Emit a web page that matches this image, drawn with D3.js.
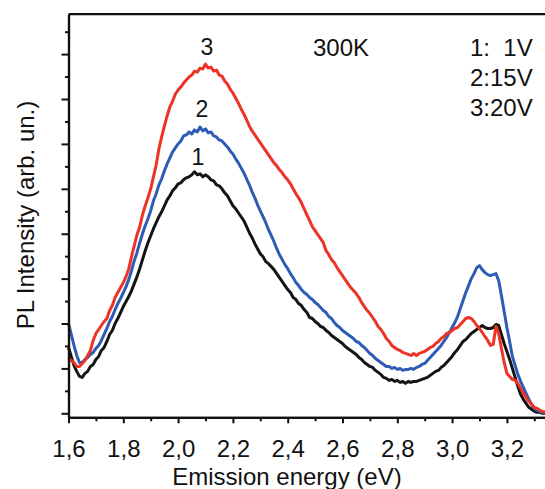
<!DOCTYPE html>
<html>
<head>
<meta charset="utf-8">
<script src="https://cdn.jsdelivr.net/npm/d3@7"></script>
<style>
  body { margin: 0; background: #fff; }
  svg { display: block; font-family: "Liberation Sans", Arial, sans-serif; }
  text { white-space: pre; }
</style>
</head>
<body>
<div id="chart"></div>
<script>
// emission energy grid (eV), spectra sampled every 0.01 eV from 1.60 to 3.34
const energy = d3.range(160, 335).map(d => d / 100);

// curve 1 : 1 V
const series1V = [66,57,48,42,37,36,40,42,47,49,54,57,63,66,72,79,83,90,95,101,
  107,112,117,123,130,137,145,154,163,171,178,185,191,197,202,208,214,218,223,226,
  230,231,234,236,237,239,242,239,240,237,239,237,234,233,229,228,225,221,218,213,
  208,205,201,197,193,187,181,176,170,165,160,157,152,150,147,144,140,136,132,128,
  124,121,116,114,110,108,104,101,96,95,92,90,87,86,83,81,78,76,74,72,
  70,67,65,63,61,59,56,54,51,49,47,46,43,41,39,36,35,33,34,32,
  33,31,32,30,32,31,32,32,33,34,35,36,38,40,42,43,46,48,51,54,
  57,61,64,68,72,74,77,80,82,84,86,88,86,85,85,86,89,88,79,70,
  62,54,45,36,27,19,14,10,6,4,2,1,1,0,0];

// curve 2 : 15 V
const series15V = [90,79,68,58,51,51,54,56,59,61,65,68,73,79,85,92,97,104,110,115,
  121,127,134,143,153,161,171,180,188,195,203,213,220,229,235,243,250,256,262,266,
  270,273,278,279,282,280,284,282,287,283,285,281,282,278,277,274,273,270,267,263,
  260,255,251,246,241,235,229,222,216,209,203,197,191,184,178,172,165,159,154,149,
  145,140,136,131,128,124,121,119,116,114,111,109,106,103,101,97,95,91,88,86,
  83,81,79,77,75,72,71,68,66,63,60,58,55,53,51,49,47,47,45,46,
  44,45,43,44,44,45,44,46,47,49,50,53,56,59,62,65,68,72,76,81,
  86,91,97,105,113,121,128,135,140,146,148,144,141,139,138,139,140,133,118,102,
  86,72,57,48,39,32,26,20,14,9,5,3,2,1,1];

// curve 3 : 20 V
const series20V = [56,53,51,47,47,50,53,58,63,73,80,84,88,92,95,103,108,116,121,126,
  131,137,145,157,168,179,187,199,208,216,225,237,249,265,277,288,298,307,313,320,
  324,327,331,334,337,339,343,342,346,345,350,346,347,343,344,339,338,333,330,325,
  321,316,311,305,300,294,288,283,279,275,271,267,263,259,255,251,248,244,241,237,
  234,230,225,220,216,211,205,199,193,187,183,179,175,171,163,159,154,151,146,142,
  138,134,130,126,123,120,116,111,107,103,100,96,92,87,84,80,75,72,68,66,
  64,63,61,60,59,58,60,58,60,61,62,64,66,67,70,72,75,77,80,81,
  83,85,86,89,92,95,96,95,92,88,85,81,77,73,68,69,87,80,65,51,
  40,37,34,33,30,25,20,16,12,9,6,5,3,2,1];

const seriesNames = ["1", "2", "3"];
const seriesColors = ["#141414", "#2d5cb6", "#ec3326"];
const legendLines = ["1:  1V", "2:15V", "3:20V"];

const xMajorTicks = [1.6, 1.8, 2.0, 2.2, 2.4, 2.6, 2.8, 3.0, 3.2];
const xTickLabels = ["1,6", "1,8", "2,0", "2,2", "2,4", "2,6", "2,8", "3,0", "3,2"];
const xMinorTicks = [1.7, 1.9, 2.1, 2.3, 2.5, 2.7, 2.9, 3.1, 3.3];
const yMajorTicks = [0, 45, 90, 135, 180, 225, 270, 315, 360];
const yMinorTicks = [22.5, 67.5, 112.5, 157.5, 202.5, 247.5, 292.5, 337.5, 382.5];

const width = 545, height = 489;

let svg = d3.select("#chart").append("svg")
  .attr("width", width)
  .attr("height", height);

let x = d3.scaleLinear().domain([1.6, 3.4]).range([68.5, 561.7]);
let y = d3.scaleLinear().domain([-4, 400]).range([417.3, 14.2]);

// spectra
let allSeries = [series1V, series15V, series20V];
let line = d3.line()
  .x((d, i) => x(energy[i]))
  .y(d => y(d));

// black first, then blue, red on top
[0, 1, 2].forEach(k => {
  svg.append("path")
    .datum(allSeries[k])
    .attr("d", line)
    .attr("fill", "none")
    .attr("stroke", seriesColors[k])
    .attr("stroke-width", 3)
    .attr("stroke-linejoin", "round");
});

// axes
let xAxisMinor = d3.axisBottom(x).tickValues(xMinorTicks).tickSize(4).tickSizeOuter(0).tickFormat("");
let xAxis = d3.axisBottom(x).tickValues(xMajorTicks).tickSize(6).tickSizeOuter(0)
  .tickFormat((d, i) => xTickLabels[i]);
let yAxisMinor = d3.axisLeft(y).tickValues(yMinorTicks).tickSize(3.5).tickSizeOuter(0).tickFormat("");
let yAxis = d3.axisLeft(y).tickValues(yMajorTicks).tickSize(7).tickSizeOuter(0).tickFormat("");

let gx = svg.append("g").attr("transform", "translate(0," + y(-4) + ")");
gx.call(xAxisMinor);
let gx2 = svg.append("g").attr("transform", "translate(0," + y(-4) + ")");
gx2.call(xAxis);
gx2.selectAll("text")
  .attr("font-size", 24)
  .attr("font-family", "Liberation Sans, Arial, sans-serif")
  .attr("fill", "#111")
  .attr("dy", 0)
  .attr("y", 40);

let gy = svg.append("g").attr("transform", "translate(" + x(1.6) + ",0)");
gy.call(yAxisMinor);
let gy2 = svg.append("g").attr("transform", "translate(" + x(1.6) + ",0)");
gy2.call(yAxis);

svg.selectAll(".domain").attr("stroke", "#111").attr("stroke-width", 2.2);
svg.selectAll(".tick line").attr("stroke", "#111").attr("stroke-width", 2);

// top frame line
svg.append("line")
  .attr("x1", x(1.6)).attr("x2", width)
  .attr("y1", y(400)).attr("y2", y(400))
  .attr("stroke", "#111").attr("stroke-width", 2.2);

// axis titles
svg.append("text")
  .text("Emission energy (eV)")
  .attr("x", 287)
  .attr("y", 485)
  .attr("text-anchor", "middle")
  .attr("font-size", 24)
  .attr("fill", "#111");

svg.append("text")
  .text("PL Intensity (arb. un.)")
  .attr("transform", "translate(34,215) rotate(-90)")
  .attr("text-anchor", "middle")
  .attr("font-size", 24)
  .attr("fill", "#111");

// curve numbers above each peak
let curveLabelPos = [[198, 165], [202, 117], [207, 55]];
seriesNames.forEach((s, i) => {
  svg.append("text")
    .text(s)
    .attr("x", curveLabelPos[i][0])
    .attr("y", curveLabelPos[i][1])
    .attr("text-anchor", "middle")
    .attr("font-size", 23)
    .attr("fill", "#111");
});

svg.append("text")
  .text("300K")
  .attr("x", 313)
  .attr("y", 56)
  .attr("font-size", 24)
  .attr("fill", "#111");

legendLines.forEach((t, i) => {
  svg.append("text")
    .text(t)
    .attr("x", 470)
    .attr("y", 56 + i * 30)
    .attr("font-size", 24)
    .attr("fill", "#111");
});
</script>
</body>
</html>
